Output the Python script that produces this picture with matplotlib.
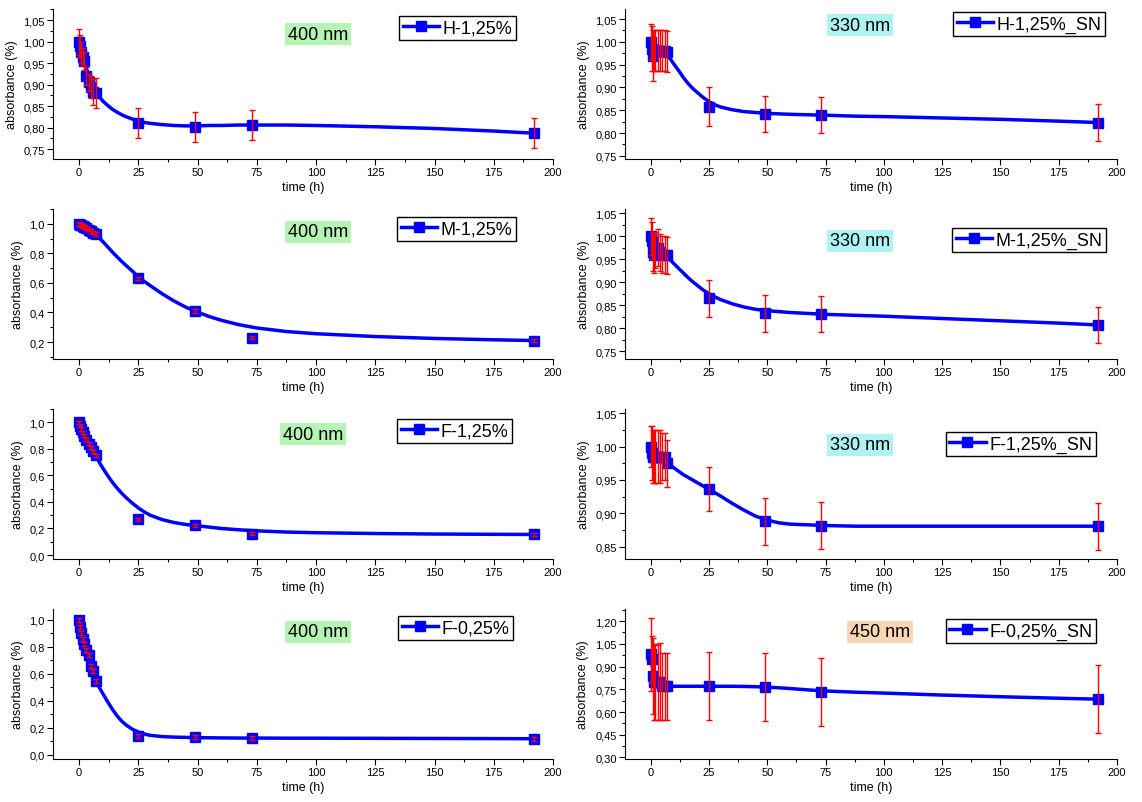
import matplotlib.pyplot as plt
from matplotlib.ticker import MultipleLocator, FuncFormatter

plt.rcParams['font.family'] = ['Liberation Sans', 'DejaVu Sans']

# sampling times (h)
hours = [0, 0.5, 1, 1.5, 2, 3, 4, 5, 6, 7, 25, 49, 73, 192]
# points
fit_hours = [0, 1, 2, 3, 4, 5, 6, 7, 8.5, 10, 12, 14, 16, 18, 20, 22.5, 25, 27.5, 30, 35, 40,
             45, 50, 55, 60, 67.5, 75, 87.5, 100, 125, 150, 175, 192]

h125 = [1.0, 0.99, 0.975, 0.965, 0.955, 0.92, 0.905, 0.895, 0.882, 0.88, 0.81, 0.801, 0.807, 0.787]
h125_err = [0.03, 0.025, 0.025, 0.02, 0.02, 0.02, 0.02, 0.025, 0.03, 0.035, 0.035, 0.035, 0.035, 0.035]
h125_fit = [1.0, 0.98, 0.96, 0.94, 0.922, 0.905, 0.892, 0.883, 0.872, 0.862, 0.852, 0.843, 0.836,
            0.83, 0.825, 0.82, 0.816, 0.812, 0.81, 0.807, 0.805, 0.804, 0.804, 0.805, 0.805,
            0.806, 0.806, 0.806, 0.805, 0.802, 0.798, 0.792, 0.787]

m125 = [1.0, 0.995, 0.99, 0.985, 0.98, 0.97, 0.96, 0.95, 0.94, 0.93, 0.63, 0.41, 0.23, 0.21]
m125_err = [0.012] * 14
m125_fit = [1.0, 0.99, 0.98, 0.97, 0.96, 0.95, 0.94, 0.928, 0.905, 0.88, 0.845, 0.81, 0.777,
            0.745, 0.715, 0.68, 0.64, 0.61, 0.582, 0.527, 0.478, 0.436, 0.402, 0.372, 0.347,
            0.317, 0.295, 0.271, 0.256, 0.237, 0.224, 0.215, 0.21]

f125 = [1.0, 0.975, 0.95, 0.925, 0.9, 0.87, 0.84, 0.81, 0.78, 0.75, 0.27, 0.225, 0.16, 0.155]
f125_err = [0.012] * 14
f125_fit = [1.0, 0.97, 0.94, 0.905, 0.865, 0.825, 0.788, 0.75, 0.7, 0.655, 0.6, 0.55, 0.505,
            0.465, 0.43, 0.39, 0.355, 0.325, 0.3, 0.267, 0.245, 0.23, 0.22, 0.21, 0.2, 0.19,
            0.182, 0.173, 0.168, 0.162, 0.158, 0.156, 0.155]

f025 = [1.0, 0.95, 0.9, 0.86, 0.82, 0.78, 0.74, 0.66, 0.62, 0.55, 0.14, 0.13, 0.125, 0.12]
f025_err = [0.015] * 14
f025_fit = [1.0, 0.87, 0.79, 0.73, 0.67, 0.62, 0.58, 0.55, 0.5, 0.455, 0.395, 0.34, 0.29, 0.25,
            0.22, 0.19, 0.17, 0.155, 0.145, 0.136, 0.132, 0.13, 0.128, 0.127, 0.126, 0.125,
            0.125, 0.124, 0.124, 0.123, 0.122, 0.121, 0.12]

h125_sn = [1.0, 0.985, 0.97, 0.98, 0.98, 0.98, 0.98, 0.98, 0.98, 0.978, 0.858, 0.842, 0.84, 0.823]
h125_sn_err = [0.04, 0.05, 0.055, 0.045, 0.045, 0.045, 0.045, 0.045, 0.045, 0.045, 0.043, 0.04, 0.04, 0.04]
h125_sn_fit = [0.99, 0.985, 0.982, 0.98, 0.98, 0.978, 0.975, 0.971, 0.962, 0.951, 0.937, 0.922,
               0.909, 0.898, 0.889, 0.878, 0.869, 0.862, 0.857, 0.851, 0.847, 0.845, 0.843,
               0.842, 0.841, 0.84, 0.839, 0.837, 0.836, 0.833, 0.83, 0.826, 0.823]

m125_sn = [1.0, 0.99, 0.965, 0.96, 0.97, 0.975, 0.965, 0.96, 0.96, 0.958, 0.865, 0.832, 0.831, 0.807]
m125_sn_err = [0.04] * 14
m125_sn_fit = [0.99, 0.975, 0.967, 0.965, 0.963, 0.961, 0.958, 0.955, 0.948, 0.94, 0.93, 0.92,
               0.91, 0.901, 0.893, 0.883, 0.875, 0.868, 0.862, 0.853, 0.846, 0.841, 0.838,
               0.836, 0.834, 0.832, 0.83, 0.828, 0.826, 0.821, 0.816, 0.811, 0.807]

f125_sn = [1.0, 0.99, 0.985, 0.985, 0.985, 0.985, 0.985, 0.985, 0.985, 0.975, 0.937, 0.888, 0.882, 0.881]
f125_sn_err = [0.03, 0.04, 0.04, 0.04, 0.04, 0.04, 0.04, 0.035, 0.035, 0.035, 0.033, 0.035, 0.035, 0.035]
f125_sn_fit = [1.0, 0.99, 0.987, 0.985, 0.984, 0.982, 0.979, 0.976, 0.972, 0.968, 0.963, 0.958,
               0.954, 0.95, 0.946, 0.941, 0.936, 0.931, 0.926, 0.915, 0.905, 0.896, 0.89,
               0.886, 0.884, 0.883, 0.882, 0.881, 0.881, 0.881, 0.881, 0.881, 0.881]

f025_sn = [0.98, 0.95, 0.84, 0.8, 0.8, 0.795, 0.8, 0.77, 0.77, 0.77, 0.77, 0.765, 0.73, 0.685]
f025_sn_err = [0.24, 0.15, 0.25, 0.25, 0.25, 0.25, 0.255, 0.22, 0.22, 0.22, 0.225, 0.225, 0.225, 0.225]
f025_sn_fit = [0.98, 0.87, 0.82, 0.8, 0.79, 0.782, 0.776, 0.772, 0.77, 0.77, 0.77, 0.77, 0.77,
               0.77, 0.77, 0.77, 0.77, 0.77, 0.77, 0.77, 0.769, 0.767, 0.764, 0.76, 0.755,
               0.746, 0.739, 0.731, 0.725, 0.712, 0.701, 0.691, 0.685]

GREEN = '#b4f5b4'
CYAN = '#aef3f3'
PEACH = '#fbd6b4'

# (row, col, label, data, err, fit, wavelength, colour, ylim, major, decimals, legend xy, text xy)
panels = [
    (0, 0, 'H-1,25%', h125, h125_err, h125_fit, '400 nm', GREEN, (0.727, 1.076), 0.05, 2, (0.692, 0.953), (0.53, 0.833)),
    (1, 0, 'M-1,25%', m125, m125_err, m125_fit, '400 nm', GREEN, (0.085, 1.10), 0.2, 1, (0.688, 0.947), (0.53, 0.847)),
    (2, 0, 'F-1,25%', f125, f125_err, f125_fit, '400 nm', GREEN, (-0.03, 1.10), 0.2, 1, (0.688, 0.933), (0.52, 0.833)),
    (3, 0, 'F-0,25%', f025, f025_err, f025_fit, '400 nm', GREEN, (-0.03, 1.08), 0.2, 1, (0.69, 0.953), (0.53, 0.847)),
    (0, 1, 'H-1,25%_SN', h125_sn, h125_sn_err, h125_sn_fit, '330 nm', CYAN, (0.743, 1.072), 0.05, 2, (0.667, 0.98), (0.478, 0.893)),
    (1, 1, 'M-1,25%_SN', m125_sn, m125_sn_err, m125_sn_fit, '330 nm', CYAN, (0.733, 1.059), 0.05, 2, (0.665, 0.873), (0.478, 0.787)),
    (2, 1, 'F-1,25%_SN', f125_sn, f125_sn_err, f125_sn_fit, '330 nm', CYAN, (0.832, 1.056), 0.05, 2, (0.652, 0.847), (0.478, 0.76)),
    (3, 1, 'F-0,25%_SN', f025_sn, f025_sn_err, f025_sn_fit, '450 nm', PEACH, (0.29, 1.28), 0.15, 2, (0.652, 0.933), (0.518, 0.847)),
]

W, H = 1142, 803
fig = plt.figure(figsize=(W / 100, H / 100), dpi=100)

col_left = [53, 625]
col_width = [500, 492]
row_bottom = [160, 360, 560, 760]
ax_h = 150

for (row, col, label, vals, err, fit, wl, wl_col, ylim, major, dec, leg_xy, txt_xy) in panels:
    ax = fig.add_axes([col_left[col] / W, 1 - row_bottom[row] / H, col_width[col] / W, ax_h / H])
    ax.plot(fit_hours, fit, color='#0000ff', lw=2.5, zorder=2,
            solid_joinstyle='round', solid_capstyle='round')
    ax.plot(hours, vals, 's', color='#0000ff', ms=7, zorder=3)
    ax.errorbar(hours, vals, yerr=err, fmt='none', ecolor='red', elinewidth=1,
                capsize=2, capthick=1, zorder=4)
    ax.plot([], [], '-s', color='#0000ff', lw=2.5, ms=7, label=label)

    ax.set_xlim(-11, 200)
    ax.set_ylim(*ylim)
    ax.xaxis.set_major_locator(MultipleLocator(25))
    ax.xaxis.set_minor_locator(MultipleLocator(12.5))
    ax.yaxis.set_major_locator(MultipleLocator(major))
    ax.yaxis.set_minor_locator(MultipleLocator(major / 2))
    ax.yaxis.set_major_formatter(FuncFormatter(lambda v, p, d=dec: f'{v:.{d}f}'.replace('.', ',')))
    for s in ('top', 'right'):
        ax.spines[s].set_visible(False)
    ax.tick_params(which='major', direction='out', length=4, width=0.8, labelsize=8, pad=2)
    ax.tick_params(which='minor', direction='out', length=2.5, width=0.8)
    ax.set_xlabel('time (h)', fontsize=9, labelpad=3)
    ax.set_ylabel('absorbance (%)', fontsize=9, labelpad=4)

    ax.text(txt_xy[0], txt_xy[1], wl, transform=ax.transAxes, fontsize=13,
            ha='center', va='center',
            bbox=dict(boxstyle='square,pad=0.15', fc=wl_col, ec='none'))
    ax.legend(loc='upper left', bbox_to_anchor=leg_xy, borderaxespad=0, fontsize=13,
              frameon=True, fancybox=False, edgecolor='black', framealpha=1,
              handlelength=2.0, handletextpad=0.2, borderpad=0.2)

fig.savefig('out.png', dpi=100)
